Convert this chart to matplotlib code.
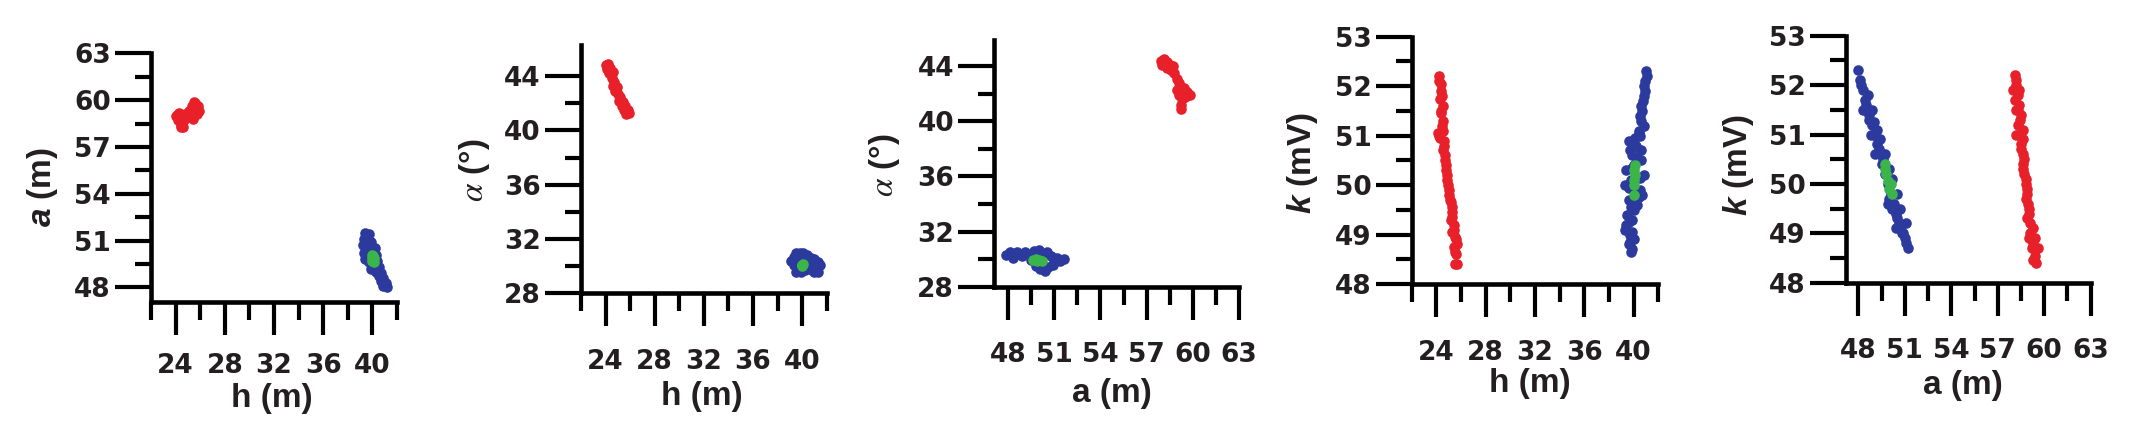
import matplotlib
matplotlib.use("Agg")
import matplotlib.pyplot as plt

RED = "#e8202a"
BLUE = "#2b3a9c"
GREEN = "#3bb54a"

# ---- panel 1: h (m) vs a (m)
p1_red_h = [24.0, 24.2, 24.3, 24.4, 24.5, 24.6, 24.7, 24.8, 24.4, 24.2,
            25.1, 25.2, 25.3, 25.4, 25.5, 25.6, 25.7, 25.8, 25.9, 25.4, 25.1, 25.6]
p1_red_a = [59.0, 58.7, 59.2, 58.4, 58.9, 58.3, 58.7, 59.1, 58.25, 59.1,
            59.3, 58.9, 59.6, 59.2, 59.9, 59.5, 59.1, 59.6, 59.3, 58.8, 59.0, 59.8]
p1_blue_h = [39.4, 39.7, 39.3, 39.6, 39.9, 39.2, 39.5, 39.8, 40.2, 39.3, 39.6, 40.3, 39.4, 40.4,
             39.7, 40.1, 40.5, 39.9, 40.3, 40.7, 40.5, 40.9, 40.7, 41.1, 40.9, 41.2, 40.1]
p1_blue_a = [51.5, 51.4, 51.1, 51.0, 50.9, 50.7, 50.5, 50.6, 50.5, 50.2, 50.0, 50.1, 49.8, 49.7,
             49.6, 49.4, 49.3, 49.2, 49.0, 48.9, 48.7, 48.6, 48.4, 48.3, 48.1, 48.0, 49.9]
p1_green_h = [40.0, 40.1, 40.0, 40.15, 40.05, 39.95]
p1_green_a = [50.1, 49.9, 49.7, 49.6, 50.0, 49.85]

# ---- panel 2: h (m) vs alpha (deg)
p2_red_h = [24.0, 24.2, 24.1, 24.4, 24.3, 24.6, 24.5, 24.7, 24.6, 24.9, 24.8,
            25.0, 25.2, 25.1, 25.4, 25.3, 25.6, 25.5, 25.8, 25.7, 25.9]
p2_red_al = [44.8, 44.9, 44.5, 44.6, 44.2, 44.3, 43.9, 43.6, 43.3, 43.2, 42.9,
             42.7, 42.5, 42.2, 42.1, 41.8, 41.8, 41.5, 41.5, 41.2, 41.3]
p2_blue_h = [39.1, 39.3, 39.5, 39.8, 40.1, 40.4, 40.7, 41.0, 41.3, 41.45, 39.3,
             39.6, 39.9, 40.2, 40.5, 40.8, 41.0, 41.3, 39.7, 40.3, 40.8, 39.5]
p2_blue_al = [30.4, 30.7, 30.95, 31.0, 30.95, 30.8, 30.6, 30.5, 30.3, 30.1, 30.1,
              29.8, 29.6, 29.7, 29.9, 29.7, 29.55, 29.6, 30.4, 30.3, 30.2, 29.6]
p2_green_h = [40.0, 39.95, 40.05, 40.0]
p2_green_al = [30.1, 30.0, 30.15, 30.05]

# ---- panel 3: a (m) vs alpha (deg)
p3_red_a = [57.9, 58.1, 58.3, 58.5, 58.7, 58.0, 58.3, 58.6, 58.8, 59.0, 59.1,
            59.2, 59.0, 59.4, 59.6, 59.8, 59.5, 59.1, 59.3, 59.2, 59.25]
p3_red_al = [44.4, 44.5, 44.3, 44.1, 44.0, 44.1, 43.9, 43.7, 43.5, 43.1, 42.8,
             42.5, 42.3, 42.4, 42.1, 41.9, 41.8, 41.9, 41.6, 41.2, 40.9]
p3_blue_a = [47.85, 48.1, 48.3, 48.6, 48.9, 49.1, 49.4, 49.5, 49.7, 50.0, 50.2, 49.8,
             50.1, 50.4, 50.6, 50.5, 50.8, 51.0, 51.2, 51.4, 51.6, 48.4, 50.9]
p3_blue_al = [30.3, 30.5, 30.1, 30.5, 30.2, 30.55, 30.3, 29.95, 30.6, 30.65, 30.4, 29.5,
              29.3, 29.15, 29.45, 30.5, 30.2, 29.8, 30.1, 29.9, 30.0, 30.4, 29.6]
p3_green_a = [49.6, 49.8, 50.0, 50.2, 49.9]
p3_green_al = [29.95, 30.0, 29.95, 29.9, 29.9]

# ---- panel 4: h (m) vs k (mV)
p4_red_h = [24.2, 24.35, 24.4, 24.3, 24.5, 24.4, 24.5, 24.1, 24.3, 24.55, 24.6, 24.7, 24.75, 24.85,
            24.95, 25.05, 25.2, 25.3, 25.15, 25.4, 25.3, 25.5, 25.7, 25.4, 25.6, 25.5, 25.7,
            24.25, 24.45, 24.35, 24.45, 24.2, 24.65, 24.55, 24.7, 24.8, 24.9, 25.0, 25.1,
            25.25, 25.3, 25.45, 25.6, 25.5]
p4_red_k = [52.2, 52.05, 51.9, 51.75, 51.6, 51.45, 51.3, 51.05, 50.95, 51.1, 50.8, 50.6, 50.4, 50.2,
            50.0, 49.8, 49.65, 49.45, 49.3, 49.2, 49.05, 48.95, 48.8, 48.75, 48.6, 48.4, 48.4,
            52.1, 51.8, 51.5, 51.2, 51.0, 50.9, 50.7, 50.5, 50.3, 50.1, 49.9, 49.7,
            49.55, 49.35, 49.1, 48.9, 48.65]
p4_blue_h = [41.0, 40.95, 40.9, 40.75, 40.7, 40.6, 40.4, 40.55, 39.6, 40.2, 39.9, 40.6, 39.4, 40.8,
             39.3, 40.5, 39.6, 40.3, 39.5, 39.9, 39.3, 39.7, 39.6, 39.8, 40.6, 40.8, 40.6, 40.0,
             39.8, 40.7, 40.0, 39.4, 40.0,
             41.05, 40.85, 40.8, 40.55, 40.45, 40.1, 39.7, 40.3, 39.9, 40.5, 39.6, 40.4, 39.8,
             39.65, 39.85, 39.7, 39.9]
p4_blue_k = [52.3, 52.1, 51.9, 51.7, 51.5, 51.3, 51.1, 51.0, 50.9, 50.8, 50.6, 50.5, 50.3, 50.2,
             50.0, 49.9, 49.7, 49.6, 49.4, 49.3, 49.1, 49.0, 48.8, 48.65, 51.6, 51.2, 50.7, 50.4,
             50.1, 49.8, 49.5, 49.2, 48.9,
             52.2, 52.0, 51.8, 51.4, 51.05, 50.95, 50.7, 50.55, 50.35, 50.15, 49.95, 49.75, 49.55,
             49.25, 49.05, 48.85, 48.7]
p4_green_h = [40.0, 40.05, 40.1, 40.1, 40.0, 40.05]
p4_green_k = [49.8, 50.0, 50.2, 50.4, 50.1, 50.3]

# ---- panel 5: a (m) vs k (mV)
p5_red_a = [58.1, 58.2, 58.0, 58.3, 58.4, 58.2, 58.5, 58.3, 58.6, 58.2, 58.6, 58.5, 58.7, 58.6,
            58.8, 58.9, 58.8, 59.0, 58.9, 59.1, 59.3, 59.0, 59.4, 59.2, 59.6, 59.3, 59.5,
            58.15, 58.1, 58.4, 58.3, 58.45, 58.4, 58.5, 58.6, 58.65, 58.7, 58.8, 58.9, 58.95,
            59.0, 59.1, 59.3, 59.4]
p5_red_k = [52.2, 52.0, 51.9, 51.8, 51.6, 51.5, 51.4, 51.2, 51.1, 51.0, 50.9, 50.7, 50.5, 50.3,
            50.1, 49.9, 49.7, 49.5, 49.3, 49.2, 49.1, 48.9, 48.9, 48.7, 48.7, 48.45, 48.4,
            52.1, 51.7, 51.9, 51.5, 51.3, 51.0, 50.8, 50.6, 50.4, 50.2, 50.0, 49.8, 49.6,
            49.4, 49.0, 48.8, 48.55]
p5_blue_a = [48.0, 48.1, 48.3, 48.4, 48.6, 48.7, 48.9, 49.0, 49.2, 49.4, 49.5, 49.7, 49.9, 50.1,
             50.3, 50.4, 50.6, 50.8, 51.0, 51.2, 51.1, 48.6, 48.9, 49.2, 49.4, 49.7, 50.0,
             50.2, 50.5, 50.7, 48.3, 48.8, 49.1, 49.9, 50.4,
             48.2, 48.5, 48.7, 49.0, 49.3, 49.6, 49.8, 50.0, 50.2, 50.5, 50.7, 50.9, 51.1]
p5_blue_k = [52.3, 52.1, 51.9, 51.7, 51.5, 51.3, 51.2, 51.0, 50.8, 50.6, 50.4, 50.2, 50.0, 49.8,
             49.6, 49.4, 49.2, 49.0, 48.9, 48.7, 49.2, 51.8, 51.5, 51.1, 50.9, 50.6, 50.3,
             50.1, 49.8, 49.5, 51.5, 51.0, 50.6, 49.6, 49.1,
             52.0, 51.6, 51.4, 51.25, 50.7, 50.5, 50.3, 49.7, 49.5, 49.3, 49.1, 49.0, 48.8]
p5_green_a = [49.7, 49.8, 49.9, 50.0, 50.2, 49.75, 50.1]
p5_green_k = [50.4, 50.2, 50.05, 49.9, 49.8, 50.3, 50.0]

# ticks
h_major = [24, 28, 32, 36, 40]
h_minor = [22, 26, 30, 34, 38, 42]
a_major = [48, 51, 54, 57, 60, 63]
a_minor = [49.5, 52.5, 55.5, 58.5, 61.5]
al_major = [28, 32, 36, 40, 44]
al_minor = [30, 34, 38, 42]
k_major = [48, 49, 50, 51, 52, 53]
k_minor = [48.5, 49.5, 50.5, 51.5, 52.5]

h_lim = (22, 42)
a_lim = (47.1, 63)
al_lim = (28, 46.3)
k_lim = (48, 53)

plt.rcParams["font.family"] = "DejaVu Sans"
plt.rcParams["mathtext.fontset"] = "custom"
plt.rcParams["mathtext.rm"] = "Liberation Sans"
plt.rcParams["mathtext.bfit"] = "Liberation Sans:italic:bold"

W, H = 2150, 423
fig = plt.figure(figsize=(W / 100, H / 100), dpi=100)
INK = "#231f20"


def make_axes(left, top, right, bottom):
    return fig.add_axes([left / W, 1 - bottom / H, (right - left) / W, (bottom - top) / H])


def style(ax, xlim, ylim, xmaj, xmin, ymaj, ymin, xpad):
    ax.set_xlim(*xlim)
    ax.set_ylim(*ylim)
    ax.set_xticks(xmaj)
    ax.set_xticks(xmin, minor=True)
    ax.set_yticks(ymaj)
    ax.set_yticks(ymin, minor=True)
    ax.set_xticklabels([f"{v:g}" for v in xmaj])
    ax.set_yticklabels([f"{v:g}" for v in ymaj])
    for s in ("top", "right"):
        ax.spines[s].set_visible(False)
    for s in ("left", "bottom"):
        ax.spines[s].set_linewidth(3.3)
        ax.spines[s].set_color("black")
    ax.tick_params(axis="x", which="major", direction="out", length=24, width=3.0,
                   pad=xpad, labelsize=19)
    ax.tick_params(axis="x", which="minor", direction="out", length=13, width=3.0)
    ax.tick_params(axis="y", which="major", direction="out", length=26, width=3.0,
                   pad=3, labelsize=19)
    ax.tick_params(axis="y", which="minor", direction="out", length=11.5, width=3.0)
    for lab in ax.get_xticklabels() + ax.get_yticklabels():
        lab.set_fontweight("bold")
        lab.set_color(INK)
    ax.patch.set_alpha(0)


def dots(ax, x, y, c):
    ax.scatter(x, y, s=58, c=c, linewidths=0, clip_on=False, zorder=3)


def label(x, y, text, rot=0, mfont="custom", size=24):
    fig.text(x / W, 1 - y / H, text, rotation=rot, ha="center", va="center",
             fontsize=size, fontweight="bold", color=INK, family="Liberation Sans",
             math_fontfamily=mfont)


# panel 1
ax1 = make_axes(151, 53.3, 397, 302)
style(ax1, h_lim, (47.06, 63), h_major, h_minor, a_major, a_minor, 13)
dots(ax1, p1_red_h, p1_red_a, RED)
dots(ax1, p1_blue_h, p1_blue_a, BLUE)
dots(ax1, p1_green_h, p1_green_a, GREEN)
label(42, 187, r"$\mathbfit{a}$ (m)", rot=90)
label(272, 398, "h (m)")

# panel 2
ax2 = make_axes(581, 45, 826.7, 293.3)
style(ax2, h_lim, al_lim, h_major, h_minor, al_major, al_minor, 16)
dots(ax2, p2_red_h, p2_red_al, RED)
dots(ax2, p2_blue_h, p2_blue_al, BLUE)
dots(ax2, p2_green_h, p2_green_al, GREEN)
label(474, 170, r"$\alpha$ (°)", rot=90, mfont="stix", size=24)
label(702, 396, "h (m)")

# panel 3
ax3 = make_axes(994.3, 40, 1239, 286.7)
style(ax3, a_lim, (28, 45.9), a_major, a_minor, al_major, al_minor, 16)
dots(ax3, p3_red_a, p3_red_al, RED)
dots(ax3, p3_blue_a, p3_blue_al, BLUE)
dots(ax3, p3_green_a, p3_green_al, GREEN)
label(885, 165, r"$\alpha$ (°)", rot=90, mfont="stix", size=24)
label(1112, 393, "a (m)")

# panel 4
ax4 = make_axes(1411.7, 36.7, 1658.3, 284)
style(ax4, h_lim, k_lim, h_major, h_minor, k_major, k_minor, 16)
dots(ax4, p4_red_h, p4_red_k, RED)
dots(ax4, p4_blue_h, p4_blue_k, BLUE)
dots(ax4, p4_green_h, p4_green_k, GREEN)
label(1303, 163, r"$\mathbfit{k}$ (mV)", rot=90)
label(1530, 383, "h (m)")

# panel 5
ax5 = make_axes(1846, 35.7, 2090.7, 282.7)
style(ax5, (47.2, 63), k_lim, a_major, a_minor, k_major, k_minor, 16)
dots(ax5, p5_red_a, p5_red_k, RED)
dots(ax5, p5_blue_a, p5_blue_k, BLUE)
dots(ax5, p5_green_a, p5_green_k, GREEN)
label(1739, 165, r"$\mathbfit{k}$ (mV)", rot=90)
label(1963, 385, "a (m)")

fig.savefig("out.png", dpi=100)
